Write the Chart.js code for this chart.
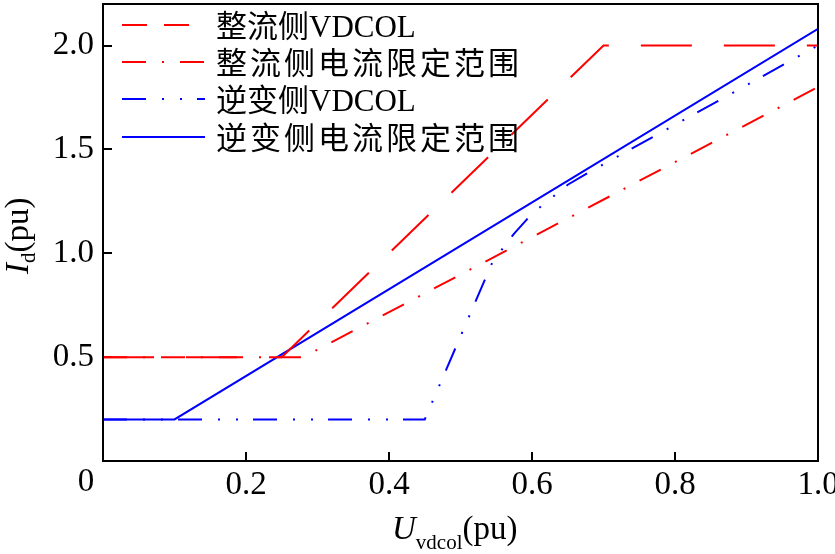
<!DOCTYPE html>
<html>
<head>
<meta charset="utf-8">
<script src="https://cdn.jsdelivr.net/npm/chart.js@4.4.0/dist/chart.umd.min.js"></script>
<style>
  html, body { margin: 0; padding: 0; background: #fff; }
  #wrap { width: 835px; height: 554px; }
</style>
</head>
<body>
<div id="wrap"><canvas id="myChart"></canvas></div>
<script>
/* data */
const rectVdcolX = [0, 0.25, 0.70, 1.0];
const rectVdcolY = [0.5, 0.5, 2.0, 2.0];
const rectLimitX = [0, 0.28, 1.0];
const rectLimitY = [0.5, 0.5, 1.8];
const invVdcolX = [0, 0.45, 0.545, 0.575, 0.60, 0.65, 0.68, 1.0];
const invVdcolY = [0.2, 0.2, 0.96, 1.095, 1.19, 1.33, 1.39, 2.0];
const invLimitX = [0, 0.10, 1.0];
const invLimitY = [0.2, 0.2, 2.08];

const seriesLabels = ['整流侧VDCOL', '整流侧电流限定范围', '逆变侧VDCOL', '逆变侧电流限定范围'];
const xTicks = [0, 0.2, 0.4, 0.6, 0.8, 1.0];
const yTicks = [0.5, 1.0, 1.5, 2.0];

const SERIF = '"Liberation Serif", "Noto Sans CJK SC", serif';
const RED = '#ff0000';
const BLUE = '#0000ff';

const toPoints = (xs, ys) => xs.map((x, i) => ({ x: x, y: ys[i] }));

// legend line patterns (first one is drawn shorter in the figure's legend)
const legendDash = [[25, 17], [24, 16, 2, 16], [24, 16, 2, 16, 2, 15], []];
const legendRows = [25, 62, 99, 137];

/* frame, legend, axis titles and the corner "0" */
const extras = {
  id: 'extras',
  afterDraw(chart) {
    const ctx = chart.ctx;
    const a = chart.chartArea;
    ctx.save();
    ctx.strokeStyle = '#000';
    ctx.lineWidth = 2;
    ctx.setLineDash([]);
    ctx.strokeRect(a.left, a.top, a.right - a.left, a.bottom - a.top);

    // legend
    chart.data.datasets.forEach((ds, i) => {
      const y = legendRows[i];
      ctx.strokeStyle = ds.borderColor;
      ctx.lineWidth = 2;
      ctx.setLineDash(legendDash[i]);
      ctx.beginPath();
      ctx.moveTo(122, y);
      ctx.lineTo(205, y);
      ctx.stroke();
      ctx.setLineDash([]);
      ctx.fillStyle = '#000';
      ctx.font = '31px ' + SERIF;
      ctx.textBaseline = 'middle';
      ctx.textAlign = 'left';
      ctx.letterSpacing = (i % 2 === 1) ? '3px' : '0px';
      ctx.fillText(ds.label, 216, y + 4);
    });
    ctx.letterSpacing = '0px';

    ctx.fillStyle = '#000';
    ctx.textBaseline = 'alphabetic';

    // corner zero
    ctx.font = '33px ' + SERIF;
    ctx.textAlign = 'center';
    ctx.fillText('0', 86, 491);

    // x title: U_vdcol(pu)
    ctx.textAlign = 'left';
    let x = 392;
    ctx.font = 'italic 33px ' + SERIF;
    ctx.fillText('U', x, 539);
    x += ctx.measureText('U').width;
    ctx.font = '21px ' + SERIF;
    ctx.fillText('vdcol', x, 549);
    x += ctx.measureText('vdcol').width;
    ctx.font = '33px ' + SERIF;
    ctx.fillText('(pu)', x, 539);

    // y title: I_d(pu)
    ctx.translate(28, 274);
    ctx.rotate(-Math.PI / 2);
    x = 0;
    ctx.font = 'italic 33px ' + SERIF;
    ctx.fillText('I', x, 0);
    x += ctx.measureText('I').width;
    ctx.font = '21px ' + SERIF;
    ctx.fillText('d', x, 7);
    x += ctx.measureText('d').width;
    ctx.font = '33px ' + SERIF;
    ctx.fillText('(pu)', x, 0);
    ctx.restore();
  }
};

const myChart = document.getElementById('myChart').getContext('2d');

const lineChart = new Chart(myChart, {
  type: 'scatter',
  data: {
    datasets: [
      { label: seriesLabels[0], data: toPoints(rectVdcolX, rectVdcolY), borderColor: RED, borderDash: [51, 32] },
      { label: seriesLabels[1], data: toPoints(rectLimitX, rectLimitY), borderColor: RED, borderDash: [24, 16, 2, 16] },
      { label: seriesLabels[2], data: toPoints(invVdcolX, invVdcolY), borderColor: BLUE, borderDash: [24, 16, 2, 16, 2, 15] },
      { label: seriesLabels[3], data: toPoints(invLimitX, invLimitY), borderColor: BLUE, borderDash: [] }
    ].map(ds => Object.assign(ds, {
      showLine: true,
      fill: false,
      borderWidth: 2,
      pointRadius: 0,
      pointHoverRadius: 0,
      tension: 0
    }))
  },
  options: {
    responsive: true,
    maintainAspectRatio: false,
    animation: false,
    events: [],
    layout: { padding: { top: 4, right: 17, left: 0, bottom: 0 } },
    plugins: {
      legend: { display: false },
      tooltip: { enabled: false }
    },
    scales: {
      x: {
        type: 'linear',
        min: 0,
        max: 1,
        afterBuildTicks: s => { s.ticks = xTicks.map(v => ({ value: v })); },
        afterFit: s => { s.height = 93; s.paddingLeft = 0; s.paddingRight = 0; },
        ticks: {
          color: '#000',
          padding: 14,
          maxRotation: 0,
          autoSkip: false,
          font: { family: SERIF, size: 33 },
          callback: v => (v === 0 ? '' : v.toFixed(1))
        },
        grid: { drawOnChartArea: false, tickLength: -9, color: '#000', lineWidth: 2 },
        border: { color: '#000', width: 2 }
      },
      y: {
        type: 'linear',
        min: 0,
        max: 2.2,
        afterBuildTicks: s => { s.ticks = yTicks.map(v => ({ value: v })); },
        afterFit: s => { s.width = 103; s.paddingTop = 0; s.paddingBottom = 0; },
        ticks: {
          color: '#000',
          padding: 18,
          autoSkip: false,
          font: { family: SERIF, size: 33 },
          callback: v => v.toFixed(1)
        },
        grid: { drawOnChartArea: false, tickLength: -9, color: '#000', lineWidth: 2 },
        border: { color: '#000', width: 2 }
      }
    }
  },
  plugins: [extras]
});
</script>
</body>
</html>
